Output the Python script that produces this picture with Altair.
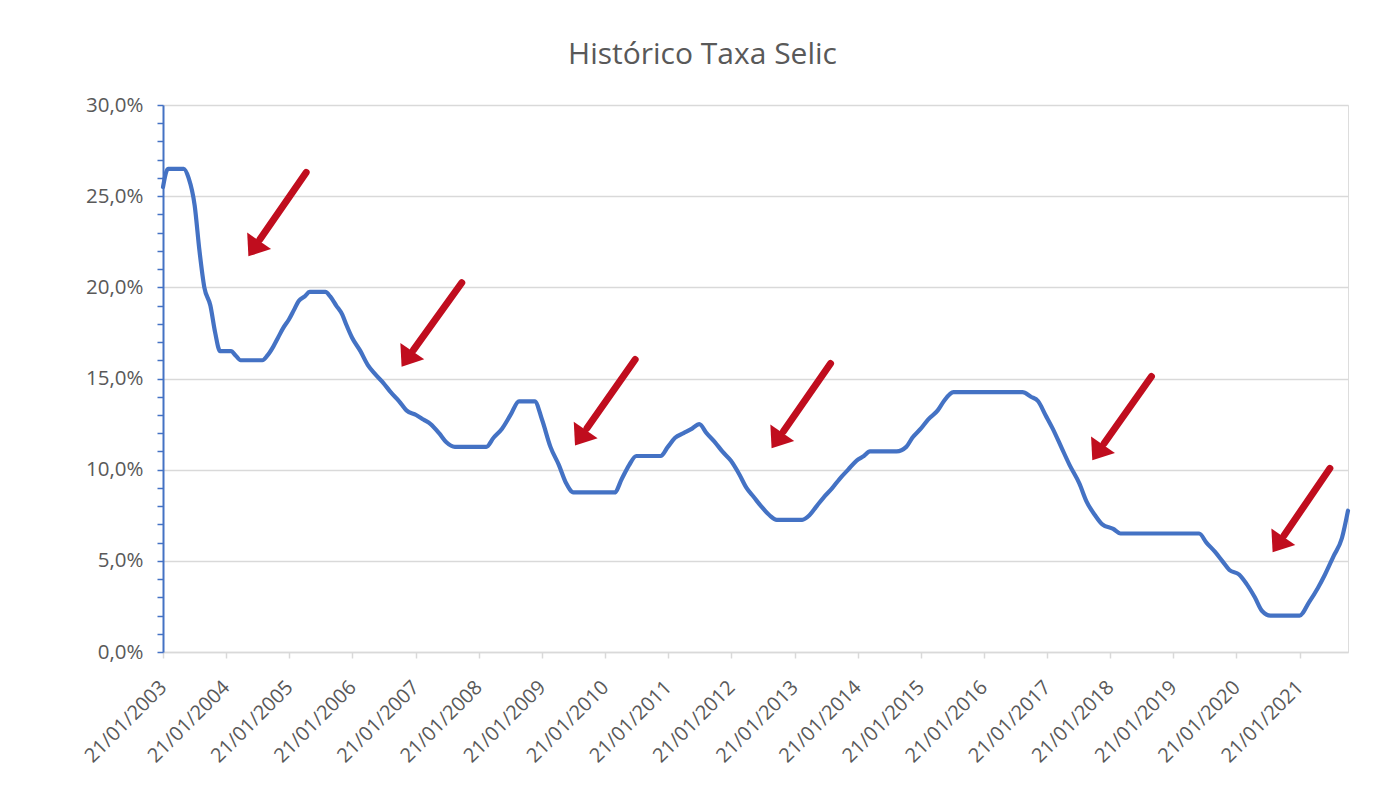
import altair as alt
import pandas as pd

# Selic target rate (% a.a.) at each Copom decision
datas = [
    "2003-01-21", "2003-02-19", "2003-03-19", "2003-04-23", "2003-05-21", "2003-06-18", "2003-07-23", "2003-08-20", "2003-09-17", "2003-10-22", "2003-11-19", "2003-12-17",
    "2004-01-21", "2004-02-18", "2004-03-17", "2004-04-14", "2004-05-19", "2004-06-16", "2004-07-21", "2004-08-18", "2004-09-15", "2004-10-20", "2004-11-17", "2004-12-15",
    "2005-01-19", "2005-02-16", "2005-03-16", "2005-04-20", "2005-05-18", "2005-06-15", "2005-07-20", "2005-08-17", "2005-09-14", "2005-10-19", "2005-11-23", "2005-12-14",
    "2006-01-18", "2006-03-08", "2006-04-19", "2006-05-31", "2006-07-19", "2006-08-30", "2006-10-18", "2006-11-29",
    "2007-01-24", "2007-03-07", "2007-04-18", "2007-06-06", "2007-07-18", "2007-09-05", "2007-10-17", "2007-12-05",
    "2008-01-23", "2008-03-05", "2008-04-16", "2008-06-04", "2008-07-23", "2008-09-10", "2008-10-29", "2008-12-10",
    "2009-01-21", "2009-03-11", "2009-04-29", "2009-06-10", "2009-07-22", "2009-09-02", "2009-10-21", "2009-12-09",
    "2010-01-27", "2010-03-17", "2010-04-28", "2010-06-09", "2010-07-21", "2010-09-01", "2010-10-20", "2010-12-08",
    "2011-01-19", "2011-03-02", "2011-04-20", "2011-06-08", "2011-07-20", "2011-08-31", "2011-10-19", "2011-11-30",
    "2012-01-18", "2012-03-07", "2012-04-18", "2012-05-30", "2012-07-11", "2012-08-29", "2012-10-10", "2012-11-28",
    "2013-01-16", "2013-03-06", "2013-04-17", "2013-05-29", "2013-07-10", "2013-08-28", "2013-10-09", "2013-11-27",
    "2014-01-15", "2014-02-26", "2014-04-02", "2014-05-28", "2014-07-16", "2014-09-03", "2014-10-29", "2014-12-03",
    "2015-01-21", "2015-03-04", "2015-04-29", "2015-06-03", "2015-07-29", "2015-09-02", "2015-10-21", "2015-11-25",
    "2016-01-20", "2016-03-02", "2016-04-27", "2016-06-08", "2016-07-20", "2016-08-31", "2016-10-19", "2016-11-30",
    "2017-01-11", "2017-02-22", "2017-04-12", "2017-05-31", "2017-07-26", "2017-09-06", "2017-10-25", "2017-12-06",
    "2018-02-07", "2018-03-21", "2018-05-16", "2018-06-20", "2018-08-01", "2018-09-19", "2018-10-31", "2018-12-12",
    "2019-02-06", "2019-03-20", "2019-05-08", "2019-06-19", "2019-07-31", "2019-09-18", "2019-10-30", "2019-12-11",
    "2020-02-05", "2020-03-18", "2020-05-06", "2020-06-17", "2020-08-05", "2020-09-16", "2020-10-28", "2020-12-09",
    "2021-01-20", "2021-03-17", "2021-05-05", "2021-06-16", "2021-08-04", "2021-09-22", "2021-10-27",
]
selic = [
    25.5, 26.5, 26.5, 26.5, 26.5, 26.0, 24.5, 22.0, 20.0, 19.0, 17.5, 16.5,
    16.5, 16.5, 16.25, 16.0, 16.0, 16.0, 16.0, 16.0, 16.25, 16.75, 17.25, 17.75,
    18.25, 18.75, 19.25, 19.5, 19.75, 19.75, 19.75, 19.75, 19.5, 19.0, 18.5, 18.0,
    17.25, 16.5, 15.75, 15.25, 14.75, 14.25, 13.75, 13.25,
    13.0, 12.75, 12.5, 12.0, 11.5, 11.25, 11.25, 11.25,
    11.25, 11.25, 11.75, 12.25, 13.0, 13.75, 13.75, 13.75,
    12.75, 11.25, 10.25, 9.25, 8.75, 8.75, 8.75, 8.75,
    8.75, 8.75, 9.5, 10.25, 10.75, 10.75, 10.75, 10.75,
    11.25, 11.75, 12.0, 12.25, 12.5, 12.0, 11.5, 11.0,
    10.5, 9.75, 9.0, 8.5, 8.0, 7.5, 7.25, 7.25,
    7.25, 7.25, 7.5, 8.0, 8.5, 9.0, 9.5, 10.0,
    10.5, 10.75, 11.0, 11.0, 11.0, 11.0, 11.25, 11.75,
    12.25, 12.75, 13.25, 13.75, 14.25, 14.25, 14.25, 14.25,
    14.25, 14.25, 14.25, 14.25, 14.25, 14.25, 14.0, 13.75,
    13.0, 12.25, 11.25, 10.25, 9.25, 8.25, 7.5, 7.0,
    6.75, 6.5, 6.5, 6.5, 6.5, 6.5, 6.5, 6.5,
    6.5, 6.5, 6.5, 6.5, 6.0, 5.5, 5.0, 4.5,
    4.25, 3.75, 3.0, 2.25, 2.0, 2.0, 2.0, 2.0,
    2.0, 2.75, 3.5, 4.25, 5.25, 6.25, 7.75,
]

# x-axis tick labels (one per year) and y-axis ticks
anos_ticks = list(range(2003, 2022))
y_ticks = list(range(0, 31))

# red annotation arrows: tail and tip (date, %)
seta_cauda_data = ["2005-04-28", "2007-10-15", "2010-07-14", "2013-08-17", "2018-09-16", "2021-07-14"]
seta_cauda_val = [26.3, 20.25, 16.04, 15.82, 15.11, 10.07]
seta_ponta_data = ["2004-05-29", "2006-11-01", "2009-07-31", "2012-09-10", "2017-10-09", "2020-08-17"]
seta_ponta_val = [21.7, 15.65, 11.33, 11.17, 10.51, 5.47]

df = pd.DataFrame({"data": datas, "selic": selic})

cauda = pd.to_datetime(pd.Series(seta_cauda_data))
ponta = pd.to_datetime(pd.Series(seta_ponta_data))
fim_haste = ponta + (cauda - ponta) * 0.2
setas = pd.DataFrame({
    "cauda_data": seta_cauda_data,
    "cauda_val": seta_cauda_val,
    "haste_data": fim_haste.dt.strftime("%Y-%m-%d"),
    "haste_val": [p + (c - p) * 0.2 for c, p in zip(seta_cauda_val, seta_ponta_val)],
    "ponta_data": seta_ponta_data,
    "ponta_val": seta_ponta_val,
})

FONT = "Open Sans"
GRAY = "#595959"
BLUE = "#4472C4"
RED = "#C00D1E"

x_scale = alt.Scale(
    type="utc",
    domain=[alt.DateTime(year=2003, month=1, date=21, utc=True),
            alt.DateTime(year=2021, month=10, date=27, utc=True)],
)
y_scale = alt.Scale(domain=[0, 30], nice=False, zero=True)

x_axis = alt.Axis(
    values=[alt.DateTime(year=a, month=1, date=21, utc=True) for a in anos_ticks],
    labelExpr="utcFormat(datum.value, '%d/%m/%Y')",
    labelAngle=-45,
    labelAlign="right",
    labelBaseline="middle",
    labelFont=FONT,
    labelFontSize=20,
    labelColor=GRAY,
    labelPadding=26,
    labelOverlap=False,
    labelFlush=False,
    grid=False,
    domainColor="#D9D9D9",
    domainWidth=1.5,
    tickColor="#D9D9D9",
    tickWidth=1.5,
    tickSize=6,
    title=None,
)
y_axis = alt.Axis(
    values=y_ticks,
    labelExpr="datum.value % 5 === 0 ? replace(format(datum.value, '.1f'), '.', ',') + '%' : ''",
    labelFont=FONT,
    labelFontSize=20.5,
    labelColor=GRAY,
    labelPadding=14,
    labelOverlap=False,
    labelFlush=False,
    labelBound=False,
    grid=True,
    gridColor="#D9D9D9",
    gridWidth=1.3,
    gridOpacity=alt.condition("datum.value % 5 === 0", alt.value(1), alt.value(0)),
    domainColor=BLUE,
    domainWidth=2,
    tickColor=BLUE,
    tickWidth=1.5,
    tickSize=6,
    title=None,
)

linha = alt.Chart(df).mark_line(
    color=BLUE, strokeWidth=4.2, interpolate="monotone", strokeCap="round", strokeJoin="round"
).encode(
    x=alt.X("data:T", scale=x_scale, axis=x_axis),
    y=alt.Y("selic:Q", scale=y_scale, axis=y_axis),
)

haste = alt.Chart(setas).mark_rule(color=RED, strokeWidth=7, strokeCap="round").encode(
    x=alt.X("cauda_data:T", scale=x_scale, axis=x_axis),
    y=alt.Y("cauda_val:Q", scale=y_scale, axis=y_axis),
    x2="haste_data:T",
    y2="haste_val:Q",
)

cabeca = alt.Chart(setas).mark_point(
    shape="M0,0 L1,1.3 L-1,1.3 Z",
    filled=True,
    size=841,
    angle=214.6,
    color=RED,
    opacity=1,
    strokeWidth=0,
).encode(
    x=alt.X("ponta_data:T", scale=x_scale, axis=x_axis),
    y=alt.Y("ponta_val:Q", scale=y_scale, axis=y_axis),
)

chart = (linha + haste + cabeca).properties(
    width=1185,
    height=547,
    title=alt.TitleParams(
        "Histórico Taxa Selic",
        font=FONT,
        fontSize=30,
        fontWeight="normal",
        color=GRAY,
        anchor="middle",
        frame="group",
        dx=-53,
        offset=1,
        baseline="alphabetic",
    ),
    autosize=alt.AutoSizeParams(type="none"),
    padding={"left": 155, "top": 97, "right": 38, "bottom": 125},
).configure_view(stroke=None).configure(background="white")

chart.save("out.html", embed_options={"renderer": "svg", "actions": False})
